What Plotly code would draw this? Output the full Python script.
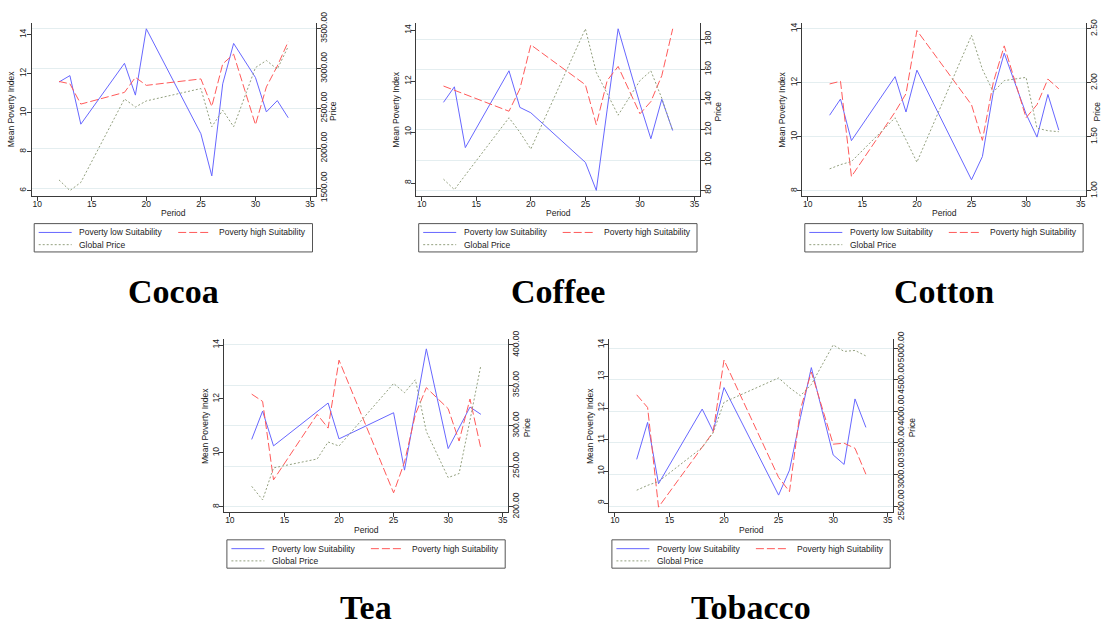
import plotly.graph_objects as go

W, H = 1102, 633

periods = [12, 13, 14, 18, 19, 20, 25, 26, 27, 28, 30, 31, 32, 33]

cocoa_low = [11.57, 11.9, 9.41, 12.53, 10.9, 14.3, 8.92, 6.76, 11.48, 13.55, 11.8, 10.04, 10.62, 9.74]
cocoa_high = [11.6, 11.48, 10.44, 11.04, 11.81, 11.4, 11.73, 10.32, 12.5, 13.0, 9.38, 11.32, 12.39, 13.64]
cocoa_price = [1605, 1471, 1573, 2620, 2518, 2595, 2750, 2271, 2478, 2271, 3013, 3102, 2993, 3277]

coffee_low = [11.17, 11.78, 9.39, 12.41, 10.97, 10.76, 8.81, 7.71, 10.9, 14.06, 11.1, 9.74, 11.29, 10.06]
coffee_high = [11.81, 11.65, 11.48, 10.82, 11.7, 13.43, 11.86, 10.29, 12.03, 12.58, 10.72, 11.2, 12.22, 14.06]
coffee_price = [87.4, 80.5, 90.1, 128, 118.4, 107.3, 186.8, 158, 144, 129.7, 152.6, 159, 140.9, 119.5]

cotton_low = [10.8, 11.4, 9.86, 12.23, 10.92, 12.47, 8.41, 9.27, 11.66, 13.1, 10.85, 9.99, 11.57, 10.25]
cotton_high = [11.96, 12.06, 8.53, 10.92, 11.6, 13.94, 11.19, 9.87, 12.02, 13.37, 10.71, 11.19, 12.14, 11.78]
cotton_price = [1.204, 1.243, 1.272, 1.677, 1.473, 1.266, 2.44, 2.126, 1.916, 2.021, 2.051, 1.581, 1.557, 1.548]

tea_low = [10.5, 11.55, 10.26, 11.53, 11.85, 10.52, 11.49, 9.36, 11.6, 13.86, 10.16, 10.93, 11.7, 11.43]
tea_high = [12.18, 11.91, 9.0, 11.43, 10.92, 13.44, 8.52, 9.66, 11.43, 12.42, 11.64, 10.44, 12.0, 10.16]
tea_price = [225.2, 208.4, 248, 259, 280, 275, 352.4, 341, 357, 293, 236, 241, 307, 375]

tobacco_low = [10.38, 11.55, 9.61, 11.97, 11.27, 12.65, 9.25, 10.04, 11.7, 13.28, 10.52, 10.22, 12.29, 11.39]
tobacco_high = [12.42, 12.02, 8.87, 10.76, 11.24, 13.52, 9.81, 9.36, 11.96, 13.14, 10.86, 10.89, 10.73, 9.91]
tobacco_price = [2751, 2828, 2889, 3427, 3658, 4144, 4529, 4375, 4247, 4426, 5051, 4949, 4964, 4877]

titles = ["Cocoa", "Coffee", "Cotton", "Tea", "Tobacco"]
x_ticks = [10, 15, 20, 25, 30, 35]
left_ticks = [[6, 8, 10, 12, 14], [8, 10, 12, 14], [8, 10, 12, 14], [8, 10, 12, 14], [9, 10, 11, 12, 13, 14]]
right_ticks = [[1500, 2000, 2500, 3000, 3500], [80, 100, 120, 140, 160, 180],
               [1.0, 1.5, 2.0, 2.5], [200, 250, 300, 350, 400], [2500, 3000, 3500, 4000, 4500, 5000]]
right_fmt = [".2f", "d", ".2f", ".2f", ".2f"]
left_ranges = [[5.73, 14.6], [7.49, 14.29], [7.81, 14.22], [7.80, 14.22], [8.71, 14.18]]
right_ranges = [[1403, 3573], [76.3, 190.7], [0.953, 2.555], [193.2, 407.2], [2403, 5143]]
legend_labels = ["Poverty low Suitability", "Poverty high Suitability", "Global Price"]

lows = [cocoa_low, coffee_low, cotton_low, tea_low, tobacco_low]
highs = [cocoa_high, coffee_high, cotton_high, tea_high, tobacco_high]
prices = [cocoa_price, coffee_price, cotton_price, tea_price, tobacco_price]

# panel plot-area boxes in pixels (left, top, right, bottom)
boxes = [(31.7, 12.3, 315.5, 190.7), (416.2, 12.3, 700.0, 190.7), (802.3, 12.3, 1086.1, 190.7),
         (224.4, 338.3, 508.2, 516.7), (609.4, 338.3, 893.2, 516.7)]
# horizontal position of the right "Price" title (offset from right axis)
price_title_dx = [18, 18, 11, 18.5, 18.5]

BLUE = "#6767ff"
RED = "#ff5a5a"
GREEN = "#93a07f"
AXC = "#3a3a3a"
GRID = "#e4eef0"
FONT = "Liberation Sans, Arial, sans-serif"
TXT = "#222222"

def px(x):
    return x / W

def py(y):
    return 1 - y / H

fig = go.Figure()
layout = dict(width=W, height=H, margin=dict(l=0, r=0, t=0, b=0),
              paper_bgcolor="white", plot_bgcolor="white", showlegend=False)
shapes = []
annotations = []

for i in range(5):
    L, T, R, B = boxes[i]
    xn = "x" if i == 0 else f"x{i+1}"
    yl_n = 2 * i + 1
    yr_n = 2 * i + 2
    yl = "y" if yl_n == 1 else f"y{yl_n}"
    yr = f"y{yr_n}"
    xkey = "xaxis" if i == 0 else f"xaxis{i+1}"
    ylkey = "yaxis" if yl_n == 1 else f"yaxis{yl_n}"
    yrkey = f"yaxis{yr_n}"

    fig.add_trace(go.Scatter(x=periods, y=prices[i], xaxis=xn, yaxis=yr, mode="lines",
                             line=dict(color=GREEN, width=1, dash="2px,2px"), name=legend_labels[2]))
    fig.add_trace(go.Scatter(x=periods, y=lows[i], xaxis=xn, yaxis=yl, mode="lines",
                             line=dict(color=BLUE, width=1), name=legend_labels[0]))
    fig.add_trace(go.Scatter(x=periods, y=highs[i], xaxis=xn, yaxis=yl, mode="lines",
                             line=dict(color=RED, width=1, dash="8px,3px"), name=legend_labels[1]))

    tickfont = dict(family=FONT, size=8.5, color=TXT)
    layout[xkey] = dict(domain=[px(L), px(R)], anchor=yl, range=[9.5, 35.5], tickvals=x_ticks,
                        showline=True, linecolor=AXC, linewidth=1, ticks="outside", ticklen=4,
                        tickcolor=AXC, showgrid=False, zeroline=False, tickfont=tickfont,
                        ticklabelstandoff=-4, fixedrange=True)
    layout[ylkey] = dict(domain=[py(B), py(T)], anchor=xn, range=left_ranges[i], tickvals=left_ticks[i],
                         showline=True, linecolor=AXC, linewidth=1, ticks="outside", ticklen=4,
                         tickcolor=AXC, showgrid=False, zeroline=False, tickfont=tickfont,
                         tickangle=-90, side="left", ticklabelstandoff=-3)
    layout[yrkey] = dict(anchor=xn, overlaying=yl, side="right", range=right_ranges[i],
                         tickvals=right_ticks[i], tickformat=right_fmt[i],
                         showline=True, linecolor=AXC, linewidth=1, ticks="outside", ticklen=4,
                         tickcolor=AXC, showgrid=True, gridcolor=GRID, gridwidth=1, zeroline=False,
                         tickfont=tickfont, tickangle=-90, ticklabelstandoff=-4)

    # axis titles
    afont = dict(family=FONT, size=8.5, color=TXT)
    annotations.append(dict(text="Mean Poverty Index", x=px(L - 20), y=py((T + B) / 2), xref="paper",
                            yref="paper", textangle=-90, showarrow=False, font=afont,
                            xanchor="center", yanchor="middle"))
    annotations.append(dict(text="Price", x=px(R + price_title_dx[i]), y=py((T + B) / 2 + 2), xref="paper",
                            yref="paper", textangle=-90, showarrow=False, font=afont,
                            xanchor="center", yanchor="middle"))
    annotations.append(dict(text="Period", x=px((L + R) / 2), y=py(B + 18), xref="paper",
                            yref="paper", showarrow=False, font=afont,
                            xanchor="center", yanchor="middle"))

    # legend box
    shapes.append(dict(type="rect", xref="paper", yref="paper", x0=px(L + 2.5), x1=px(R - 3),
                       y0=py(B + 28.5), y1=py(B + 57.7), line=dict(color="#555555", width=1),
                       fillcolor="white"))
    rows = [(L + 7, L + 40, L + 45.5, B + 37.6, BLUE, "solid", legend_labels[0]),
            (L + 146.5, L + 179.5, L + 185.5, B + 37.6, RED, "8px,3px", legend_labels[1]),
            (L + 7, L + 40, L + 45.5, B + 50.2, GREEN, "2px,2px", legend_labels[2])]
    for (a, b, tx, yy, col, dsh, lab) in rows:
        shapes.append(dict(type="line", xref="paper", yref="paper", x0=px(a), x1=px(b),
                           y0=py(yy), y1=py(yy), line=dict(color=col, width=1, dash=dsh)))
        annotations.append(dict(text=lab, x=px(tx), y=py(yy), xref="paper", yref="paper",
                                showarrow=False, font=dict(family=FONT, size=8.5, color=TXT),
                                xanchor="left", yanchor="middle"))

    # panel caption
    annotations.append(dict(text=f"<b>{titles[i]}</b>", x=px((L + R) / 2), y=py(B + 98),
                            xref="paper", yref="paper", showarrow=False,
                            font=dict(family="Liberation Serif, DejaVu Serif, serif", size=34, color="black"),
                            xanchor="center", yanchor="middle"))

layout["shapes"] = shapes
layout["annotations"] = annotations
fig.update_layout(**layout)
fig.write_html("out.html")
